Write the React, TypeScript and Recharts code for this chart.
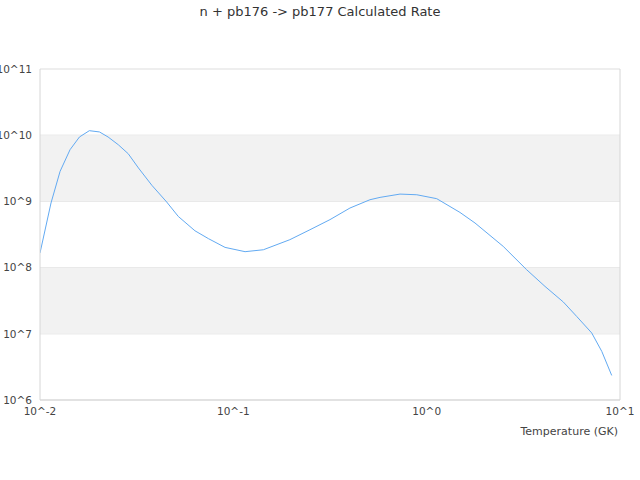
import { LineChart, Line, XAxis, YAxis, CartesianGrid, ReferenceArea, ReferenceLine } from "recharts"

// temperature in GK
const temperature = [
  0.01, 0.0114, 0.0127, 0.0143, 0.016, 0.018, 0.0203, 0.0225, 0.0254, 0.0286,
  0.0323, 0.0379, 0.0452, 0.0519, 0.0633, 0.0743, 0.0906, 0.115, 0.143, 0.196,
  0.249, 0.316, 0.401, 0.509, 0.574, 0.728, 0.889, 1.127, 1.486, 1.778,
  2.489, 3.289, 4.093, 5.093, 5.97, 7.14, 8.05, 9.06
]

// calculated rate
const rate = [
  1.66e8, 9.46e8, 2.84e9, 6.04e9, 9.4e9, 1.17e10, 1.12e10, 9.4e9, 7.18e9, 5.25e9,
  3.2e9, 1.75e9, 9.8e8, 5.93e8, 3.6e8, 2.74e8, 2.02e8, 1.74e8, 1.86e8, 2.64e8,
  3.73e8, 5.3e8, 7.94e8, 1.06e9, 1.15e9, 1.29e9, 1.26e9, 1.1e9, 6.82e8, 4.72e8,
  2.09e8, 9.29e7, 5.2e7, 3.02e7, 1.83e7, 1.03e7, 5.42e6, 2.35e6
]

const xTicks = [0.01, 0.1, 1, 10]
const yTicks = [1e6, 1e7, 1e8, 1e9, 1e10, 1e11]
const bands = [[1e7, 1e8], [1e9, 1e10]]

const data = temperature.map((t, i) => ({ t, rate: rate[i] }))

const powLabel = (v: number) => "10^" + Math.round(Math.log10(v))

const font = "'DejaVu Sans', sans-serif"

export default function App() {
  return (
    <div style={{ position: "absolute", left: 0, top: 0, width: 640, height: 480, background: "#fff", fontFamily: font }}>

      <div style={{ position: "absolute", top: 4, width: 640, textAlign: "center", fontSize: 13, color: "#333" }}>
        n + pb176 -&gt; pb177 Calculated Rate
      </div>

      <LineChart
        width={640}
        height={480}
        data={data}
        margin={{ top: 69, right: 20, bottom: 43, left: 0 }}
      >

        {bands.map(([a, b]) => (
          <ReferenceArea key={a} y1={a} y2={b} fill="#f2f2f2" fillOpacity={1} stroke="none" ifOverflow="hidden" />
        ))}

        <CartesianGrid vertical={false} stroke="#dddddd" />

        <ReferenceLine x={10} stroke="#d6d6d6" />

        <XAxis
          dataKey="t"
          type="number"
          scale="log"
          domain={[0.01, 10]}
          ticks={xTicks}
          tickFormatter={powLabel}
          allowDataOverflow
          tickLine={false}
          axisLine={{ stroke: "#d6d6d6" }}
          tick={{ fill: "#444", fontSize: 10.5, fontFamily: font }}
          height={37}
          label={{ value: "Temperature (GK)", position: "insideBottomRight", offset: 2, fill: "#444", fontSize: 11, fontFamily: font }}
        />

        <YAxis
          type="number"
          scale="log"
          domain={[1e6, 1e11]}
          ticks={yTicks}
          tickFormatter={powLabel}
          allowDataOverflow
          tickLine={false}
          axisLine={{ stroke: "#d6d6d6" }}
          tick={{ fill: "#444", fontSize: 10.5, fontFamily: font }}
          width={40}
        />

        <Line
          dataKey="rate"
          type="linear"
          stroke="#62aaf2"
          strokeWidth={1}
          dot={false}
          isAnimationActive={false}
        />

      </LineChart>

    </div>
  )
}
